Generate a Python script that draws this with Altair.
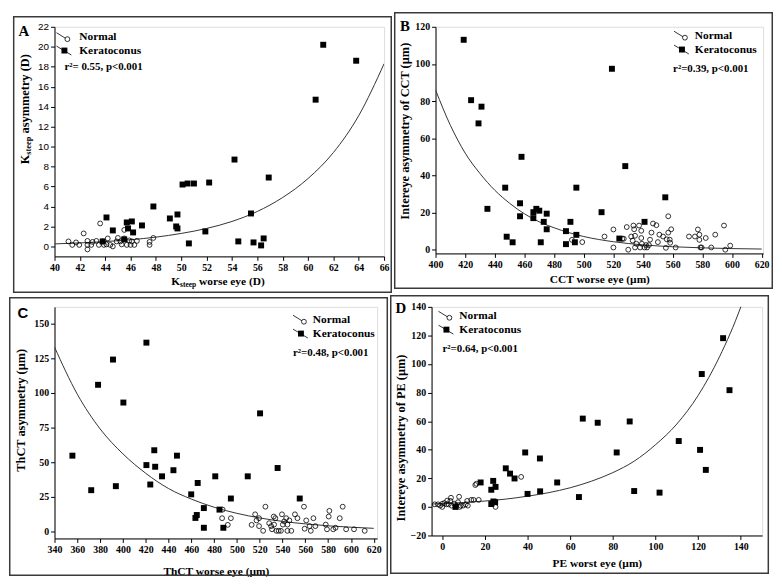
import altair as alt
import pandas as pd

# ---------------- data ----------------
# Panel A
a_norm_x = [41.1, 41.4, 41.7, 41.95, 42.3, 42.6, 42.6, 42.6, 42.9, 43.0, 43.3, 43.5, 43.6, 43.8, 43.9, 44.2, 44.4,
            44.6, 44.9, 45.0, 45.2, 45.5, 45.5, 45.7, 46.0, 46.1, 46.3, 46.5, 47.5, 47.5, 47.8, 44.1, 45.3, 45.9]
a_norm_y = [0.5, 0.15, 0.4, 0.15, 1.3, 0.55, 0.15, -0.3, 0.15, 0.45, 0.55, 0.15, 2.3, 0.5, 0.15, 0.8, 0.15,
            0.0, 0.5, 0.85, 0.5, 0.8, 1.65, 0.15, 0.15, 0.5, 0.15, 0.55, 0.45, 0.15, 0.85, 0.2, 0.2, 0.6]
a_kc_x = [63.8, 61.2, 60.6, 54.2, 56.9, 50.1, 50.5, 51.0, 52.2, 47.8, 44.1, 49.1, 49.7, 49.6, 49.7, 45.7, 46.1,
          46.9, 44.6, 45.8, 46.2, 51.9, 55.5, 43.8, 45.5, 50.6, 54.5, 55.7, 56.5, 56.3]
a_kc_y = [18.6, 20.2, 14.7, 8.7, 6.9, 6.2, 6.3, 6.3, 6.4, 4.0, 2.9, 2.8, 3.2, 2.0, 1.8, 2.4, 2.5,
          2.1, 1.6, 1.8, 1.4, 1.5, 3.3, 0.5, 0.7, 0.3, 0.5, 0.4, 0.8, 0.1]
a_fit_x = [40, 42, 44, 46, 48, 50, 52, 54, 56, 58, 60, 62, 64, 66]
a_fit_y = [0.25, 0.35, 0.48, 0.67, 0.93, 1.3, 1.8, 2.5, 3.5, 4.9, 6.8, 9.4, 13.1, 18.3]

# Panel B
b_norm_x = [492, 499, 514, 520, 520, 526, 527, 529, 530, 532, 533, 533.5, 534, 534.6, 535.5, 534.6, 537.3, 538,
            538.8, 538.8, 539.2, 541, 542, 542.7, 544, 544.7, 545.7, 546.7, 549, 550, 551, 553.5, 555.4, 556, 557,
            557, 558.3, 559, 558, 562, 571, 575, 577, 578, 578, 578.7, 579.5, 582.3, 586, 588.7, 594.6, 595.5, 598.8]
b_norm_y = [5.3, 4.1, 7.1, 10.9, 1.2, 5.9, 5.9, 12.2, 0, 7.1, 4.9, 13, 11, 7.5, 3.2, 1.2, 13, 1.2,
            6.3, 10.2, 3.2, 1.2, 2.5, 1.2, 2.5, 5.4, 9.2, 14.1, 13.2, 4.1, 8.1, 7.1, 1, 5.6, 18,
            9.2, 3.7, 11, 5.4, 1.2, 7.1, 7.1, 10.9, 8.1, 5.3, 1.2, 1.2, 6.3, 1.2, 8.1, 13, 0, 2.2]
b_kc_x = [419, 424, 431, 429, 458, 447, 435, 457, 457, 466, 468, 470, 475, 466, 473, 475, 448, 452, 471, 488,
          491, 488, 494, 495, 495, 512, 519, 528, 524, 541, 555]
b_kc_y = [113, 80.5, 77, 68, 50, 33.4, 22, 25, 18, 20.2, 22, 21, 19.4, 17, 15, 11, 7, 4, 4, 10,
          15, 3, 4, 8, 33.4, 20.2, 97.4, 45, 6, 15, 28.2]
b_fit_x = [400, 410, 420, 430, 440, 450, 460, 470, 480, 500, 520, 540, 560, 580, 600, 620]
b_fit_y = [86, 67, 52, 41, 32, 25, 19.3, 15, 11.8, 7.1, 4.3, 2.6, 1.6, 1.0, 0.6, 0.36]

# Panel C
c_norm_x = [487.5, 487, 492, 494.7, 512.9, 516, 517.2, 519.4, 519.4, 523, 525, 528.3, 530, 530.8, 532.3, 532.6,
            533.7, 534.6, 536.6, 538.6, 539.5, 540.3, 541.5, 543.2, 544.3, 544.3, 546, 547.7, 550.9, 553.1, 558.8,
            559.4, 560.8, 563.7, 564.8, 567.1, 568.8, 577.9, 579, 580.5, 581.1, 584.5, 586.5, 590.2, 592.8, 595.8,
            602.7, 612.1]
c_norm_y = [15.8, 9.6, 4.8, 9.6, 4.8, 12.4, 8, 9.6, 3.9, 0.5, 17.9, 6, 3.9, 1.6, 10.8, 5,
            9.6, 0.5, 0.5, 0.5, 12.4, 5, 7.3, 9.6, 0.5, 5, 8, 0.5, 12.4, 9.6, 17.9,
            2, 8, 3.9, 0.5, 9.6, 3.9, 5, 1.6, 10.8, 14.9, 1.6, 2.7, 9.6, 17.9, 1.6,
            1.6, 0.5]
c_kc_x = [420.6, 391.3, 378.2, 400.4, 355.7, 372.2, 393.8, 420.6, 427.5, 428.3, 424, 434.3, 444.3, 447.4, 459.9,
          465.6, 464.8, 463.6, 471, 471, 481, 484.7, 488.1, 494.7, 509.5, 520.3, 535.7, 555.1]
c_kc_y = [136.2, 124, 105.8, 93, 54.7, 29.8, 32.7, 47.9, 58.6, 46.7, 33.9, 39.8, 44.2, 54.7, 26.8,
          35, 11.9, 9.8, 16.9, 2.7, 39.8, 15.8, 2.7, 23.8, 39.8, 85.2, 45.8, 23.8]
c_fit_x = [340, 360, 380, 400, 420, 440, 460, 480, 500, 520, 540, 560, 580, 600, 620]
c_fit_y = [133, 99, 74, 56, 42, 31, 23.4, 17.5, 13.1, 9.8, 7.3, 5.5, 4.1, 3.1, 2.3]

# Panel D
d_norm_x = [-3.5, -2, -1, 0, 0, 1, 2, 3, 3.8, 4.1, 4.4, 5.6, 6.7, 7.4, 7.9, 8.2, 8.6, 9.8, 11, 11.7, 12, 13.6,
            14.7, 15.5, 16, 17.1, 25, 37, 2.3]
d_norm_y = [1.8, 1.8, 0.9, 0, 2.2, 2.7, 1.8, 1.8, 4.2, 6.4, 0.9, 2.2, 0.9, 3.3, 7.1, 0, 0.9, 0.9, 1.8, 4.2, 0.9, 4.9,
            4.9, 15.3, 16.2, 4.9, 0, 21, 4.4]
d_kc_x = [131.7, 121.7, 134.7, 65.9, 72.9, 87.9, 81.8, 110.9, 120.9, 123.6, 90, 101.9, 64.1, 53.9, 45.8, 45.9,
          38.9, 40, 29.8, 31.8, 33.9, 18, 23.9, 23, 25, 23, 24, 24.8, 6.2]
d_kc_y = [118.1, 93, 81.7, 61.8, 58.9, 59.8, 38.1, 46.1, 39.9, 25.9, 11.1, 10, 6.9, 17.1, 33.9, 10.9,
          38.1, 9.1, 27, 23.3, 19.9, 17.1, 18.2, 12, 14, 2, 3.8, 3.3, 0]
d_fit_x = [-5, 0, 10, 20, 30, 40, 50, 60, 70, 80, 90, 100, 110, 120, 130, 140, 145]
d_fit_y = [2.0, 2.3, 3.1, 4.1, 5.5, 7.5, 10, 13.4, 18, 24, 32, 43.5, 58, 78, 105, 140, 162]

legend_labels = ["Normal", "Keratoconus"]

SERIF = "Liberation Serif"
SANS = "Liberation Sans"
one = pd.DataFrame({"k": [0]})


def txt(s, x, y, size, font=SERIF, weight="bold", align="left", baseline="middle", angle=0):
    kw = dict(text=s, font=font, fontSize=size, fontWeight=weight, align=align, baseline=baseline, color="black")
    if angle:
        kw["angle"] = angle
    return alt.Chart(one).mark_text(**kw).encode(x=alt.value(x), y=alt.value(y))


def rule(x1, y1, x2, y2):
    return alt.Chart(one).mark_rule(color="black", strokeWidth=0.8).encode(
        x=alt.value(x1), x2=alt.value(x2), y=alt.value(y1), y2=alt.value(y2))


def panel(g):
    W, H, L, T, R, B = g["w"], g["h"], g["left"], g["top"], g["right"], g["bottom"]
    ylab_font = g.get("ylab_font", SERIF)
    ylab_weight = g.get("ylab_weight", "bold")
    xaxis = alt.Axis(values=g["xticks"], title=g["xtitle"], labelFont=SERIF, labelFontWeight="bold",
                     labelFontSize=10, labelColor="black", titleFont=SERIF, titleFontWeight="bold",
                     titleFontSize=11.5, titleColor="black", tickColor="black", tickSize=4,
                     domainColor="black", grid=False, labelFlush=False, labelPadding=2,
                     titlePadding=g["xpad"])
    yargs = dict(values=g["yticks"], title=g["ytitle"], labelFont=ylab_font, labelFontWeight=ylab_weight,
                 labelFontSize=10, labelColor="black", titleFont=SERIF, titleFontWeight="bold",
                 titleFontSize=12.5, titleColor="black", tickColor="black", tickSize=4,
                 domainColor="black", grid=False, labelFlush=False, labelPadding=2,
                 titlePadding=g["ypad"])
    if "titleY" in g:
        yargs["titleY"] = g["titleY"]
    yaxis = alt.Axis(**yargs)
    xe = alt.X("x:Q", scale=alt.Scale(domain=g["xdom"], nice=False, zero=False), axis=xaxis)
    ye = alt.Y("y:Q", scale=alt.Scale(domain=g["ydom"], nice=False, zero=False), axis=yaxis)

    border = alt.Chart(one).mark_rect(fillOpacity=0, stroke="#3a3a3a", strokeWidth=1.5).encode(
        x=alt.value(-L + 0.75), x2=alt.value(W + R - 0.75), y=alt.value(-T + 0.75), y2=alt.value(H + B - 0.75))
    fit = alt.Chart(pd.DataFrame({"x": g["fit_x"], "y": g["fit_y"]})).mark_line(
        color="#333333", strokeWidth=1, interpolate="monotone", clip=True).encode(x=xe, y=ye)
    norm = alt.Chart(pd.DataFrame({"x": g["norm_x"], "y": g["norm_y"]})).mark_point(
        shape="circle", filled=False, size=24, strokeWidth=0.8, color="black", opacity=1).encode(x=xe, y=ye)
    kc = alt.Chart(pd.DataFrame({"x": g["kc_x"], "y": g["kc_y"]})).mark_square(
        size=36, color="black", opacity=1).encode(x=xe, y=ye)

    lx, ny, ky, tx = g["leg_x"], g["leg_ny"], g["leg_ky"], g["leg_tx"]
    layers = [border, fit, norm, kc,
              rule(lx, ny - 4.5, lx + 13, ny + 3.5),
              alt.Chart(one).mark_point(shape="circle", filled=True, fill="white", stroke="black",
                                        strokeWidth=0.8, size=24, opacity=1).encode(
                  x=alt.value(lx + 11), y=alt.value(ny + 2)),
              rule(lx, ky - 4.5, lx + 15, ky + 4.5),
              alt.Chart(one).mark_square(color="black", size=36, opacity=1).encode(
                  x=alt.value(lx + 8), y=alt.value(ky)),
              txt(legend_labels[0], tx, ny, 11.5),
              txt(legend_labels[1], tx, ky, 11.5),
              txt(g["r2"], g["r2_x"], g["r2_y"], 11),
              txt(g["letter"], g["letter_x"], g["letter_y"], 15, font=g.get("letter_font", SERIF),
                  align="center", baseline="alphabetic")]
    layers += g.get("extra", [])
    return alt.layer(*layers).properties(width=W, height=H)


# Panel A custom axis titles with subscript "steep"
A_W, A_H = 333, 232
a_extra = [
    txt("K", 118, A_H + 26, 11.5),
    txt("steep", 126.9, A_H + 29, 7.5),
    txt("worse eye (D)", 146, A_H + 26, 11.5),
    txt("K", -30, 139, 12.5, angle=270),
    txt("steep", -27, 129.3, 8.5, angle=270),
    txt("asymmetry (D)", -30, 107.8, 12.5, angle=270),
]

pA = panel(dict(w=A_W, h=A_H, left=42, top=11, right=8, bottom=37,
                xdom=[40, 66], ydom=[-1, 22], xticks=list(range(40, 67, 2)), yticks=list(range(0, 23, 2)),
                xtitle=None, ytitle=None, xpad=4, ypad=3,
                ylab_font=SANS, ylab_weight="normal",
                fit_x=a_fit_x, fit_y=a_fit_y, norm_x=a_norm_x, norm_y=a_norm_y, kc_x=a_kc_x, kc_y=a_kc_y,
                leg_x=2, leg_ny=10.5, leg_ky=24, leg_tx=25, r2="r²= 0.55, p<0.001", r2_x=10, r2_y=41,
                letter="A", letter_x=-31, letter_y=9, extra=a_extra))

pB = panel(dict(w=331, h=229, left=42, top=15, right=10, bottom=36,
                xdom=[400, 621], ydom=[-2, 120], xticks=list(range(400, 621, 20)), yticks=list(range(0, 121, 20)),
                xtitle="CCT worse eye (µm)", ytitle="Intereye asymmetry of CCT (µm)", xpad=4, ypad=3, titleY=105,
                fit_x=b_fit_x, fit_y=b_fit_y, norm_x=b_norm_x, norm_y=b_norm_y, kc_x=b_kc_x, kc_y=b_kc_y,
                leg_x=241, leg_ny=9, leg_ky=23, leg_tx=262, r2="r²=0.39, p<0.001", r2_x=240, r2_y=43,
                letter="B", letter_x=-31, letter_y=4))

pC = panel(dict(w=326, h=234, left=46, top=10, right=11, bottom=38,
                xdom=[340, 623], ydom=[-5, 162], xticks=list(range(340, 621, 20)), yticks=list(range(0, 151, 25)),
                xtitle="ThCT worse eye (µm)", ytitle="ThCT asymmetry (µm)", xpad=11, ypad=6, titleY=104,
                fit_x=c_fit_x, fit_y=c_fit_y, norm_x=c_norm_x, norm_y=c_norm_y, kc_x=c_kc_x, kc_y=c_kc_y,
                leg_x=241, leg_ny=13, leg_ky=27, leg_tx=261, r2="r²=0.48, p<0.001", r2_x=241, r2_y=47,
                letter="C", letter_x=-32, letter_y=11.5, letter_font=SANS))

pD = panel(dict(w=334, h=231, left=42, top=12, right=7, bottom=39,
                xdom=[-5, 150], ydom=[-20, 140], xticks=list(range(0, 141, 20)), yticks=list(range(-20, 141, 20)),
                xtitle="PE worst eye (µm)", ytitle="Intereye asymmetry of PE (µm)", xpad=6, ypad=3, titleY=132,
                fit_x=d_fit_x, fit_y=d_fit_y, norm_x=d_norm_x, norm_y=d_norm_y, kc_x=d_kc_x, kc_y=d_kc_y,
                leg_x=7, leg_ny=9, leg_ky=23, leg_tx=28, r2="r²=0.64, p<0.001", r2_x=11, r2_y=43,
                letter="D", letter_x=-31, letter_y=6.7))

chart = alt.vconcat(
    alt.hconcat(pA, pB, spacing=0),
    alt.hconcat(pC, pD, spacing=0),
    spacing=0, padding=0,
).configure_view(stroke="black", strokeWidth=1).configure(background="white")

chart.save("out.html", embed_options={"renderer": "svg", "actions": False})
